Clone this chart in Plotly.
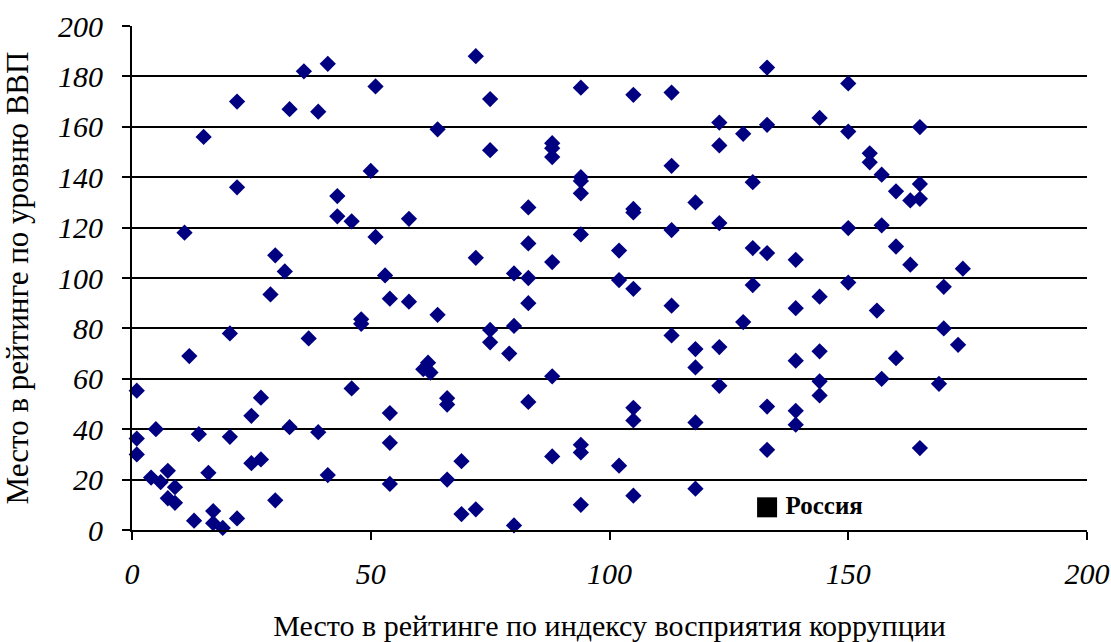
import plotly.graph_objects as go

# Place in CPI ranking (x) vs place in GDP ranking (y)
cpi_rank = [22, 15, 36, 41, 33, 39, 22, 43, 43, 46, 11, 30, 32, 29, 48, 48, 20.5, 37, 12, 1,
            46, 27, 25, 5, 1, 14, 20.5, 33, 39, 1, 25, 27, 16, 41, 7.5, 4, 6, 9, 7.5, 9,
            30, 13, 17, 17, 19, 22,
            72, 51, 94, 75, 64, 75, 88, 88, 88, 50, 94, 94, 94, 83, 58, 51, 94, 83, 72, 88,
            53, 80, 83, 54, 58, 64, 83, 75, 75, 80, 79, 62, 61, 62.5, 88, 66, 66, 83, 54, 54,
            69, 66, 54, 88, 94, 94, 94, 69, 72, 80,
            133, 105, 113, 150, 123, 133, 128, 144, 150, 123, 113, 130, 105, 105, 118, 123, 113, 150, 102, 130,
            133, 139, 102, 105, 130, 150, 113, 139, 144, 128, 113, 118, 123, 118, 139, 144, 123, 144, 144, 105,
            105, 118, 133, 139, 139, 133, 102, 105, 118,
            165, 154.5, 154.5, 157, 165, 160, 163, 165, 157, 160, 163, 174, 170, 156, 170, 173, 160, 157, 169, 165]
gdp_rank = [170, 156, 182, 185, 167, 166, 136, 132.5, 124.5, 122.5, 118, 109, 102.6, 93.5, 83.6, 81.8, 78, 76, 69, 55.3,
            56.2, 52.5, 45.3, 40, 36.3, 38, 37, 40.8, 38.8, 30, 26.5, 28, 22.7, 21.8, 23.5, 20.8, 19, 17, 12.6, 10.8,
            11.8, 3.7, 7.5, 2.7, 0.8, 4.6,
            188, 176, 175.5, 171, 159, 150.7, 153.5, 151.5, 148, 142.5, 140, 138.5, 133.6, 128, 123.5, 116.3, 117.3, 113.7, 108, 106.3,
            101, 101.8, 100, 91.8, 90.6, 85.4, 90, 79.4, 74.5, 81, 70, 66.4, 63.8, 62.5, 61, 52.3, 49.8, 50.8, 46.4, 34.6,
            27.3, 20, 18.3, 29.2, 33.8, 30.8, 10, 6.3, 8.2, 1.8,
            183.5, 172.7, 173.6, 177.2, 161.7, 160.8, 157.2, 163.5, 158.1, 152.6, 144.5, 138, 127.4, 126, 130, 121.8, 119, 119.8, 110.9, 111.9,
            109.9, 107.2, 99.2, 95.7, 97.2, 98.2, 89, 88, 92.6, 82.5, 77.2, 71.8, 72.6, 64.5, 67.2, 70.9, 57.2, 59, 53.4, 48.5,
            43.5, 42.7, 49, 47.3, 41.8, 31.8, 25.5, 13.6, 16.4,
            159.9, 149.5, 145.9, 141, 137.3, 134.4, 130.8, 131.4, 120.9, 112.5, 105.3, 103.7, 96.5, 87.1, 80, 73.5, 68.2, 60, 58, 32.5]

russia_label = ["Россия"]
russia_x = [133]
russia_y = [9]

x_ticks = [0, 50, 100, 150, 200]
y_ticks = [0, 20, 40, 60, 80, 100, 120, 140, 160, 180, 200]

x_title = "Место в рейтинге по индексу восприятия коррупции"
y_title = "Место в рейтинге по уровню ВВП"

SERIF = "Liberation Serif"

fig = go.Figure()
fig.add_trace(go.Scatter(
    x=cpi_rank, y=gdp_rank, mode="markers",
    marker=dict(symbol="diamond", size=12.5, color="#000080", line=dict(width=0)),
    showlegend=False, cliponaxis=False,
))
fig.add_trace(go.Scatter(
    x=russia_x, y=russia_y, mode="markers+text",
    text=["\u2009<b>" + t + "</b>" for t in russia_label], textposition="middle right",
    textfont=dict(family=SERIF, size=25, color="#000000"),
    marker=dict(symbol="square", size=20, color="#000000", line=dict(width=0)),
    showlegend=False,
))

fig.update_layout(
    width=1111, height=642,
    margin=dict(l=132, r=24, t=26, b=112),
    paper_bgcolor="white", plot_bgcolor="white",
    font=dict(family=SERIF, color="#000000"),
)
fig.update_xaxes(
    range=[0, 200], tickvals=x_ticks, ticktext=["<i>%d</i>" % v for v in x_ticks],
    showgrid=False, zeroline=False, automargin=False,
    showline=True, linecolor="#000000", linewidth=2,
    ticks="outside", ticklen=8, tickwidth=2, tickcolor="#000000",
    tickfont=dict(family=SERIF, size=30),
    ticklabelstandoff=8,
    title=dict(text=x_title, font=dict(family=SERIF, size=30), standoff=29),
)
fig.update_yaxes(
    range=[0, 200], tickvals=y_ticks, ticktext=["<i>%d</i>" % v for v in y_ticks],
    showgrid=True, gridcolor="#000000", gridwidth=2, zeroline=False, automargin=False,
    showline=True, linecolor="#000000", linewidth=2,
    ticks="outside", ticklen=8, tickwidth=2, tickcolor="#000000",
    tickfont=dict(family=SERIF, size=30),
    ticklabelstandoff=13,
    title=dict(text=y_title, font=dict(family=SERIF, size=31), standoff=22),
)

# remove the default page margin so the 1111x642 figure fills the window exactly
fig.write_html(
    "out.html",
    config={"displayModeBar": False},
    post_script="document.body.style.margin='0';document.body.style.overflow='hidden';",
)
